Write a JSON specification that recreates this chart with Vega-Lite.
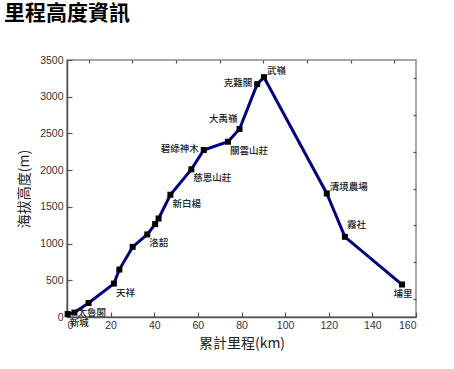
{
  "$schema": "https://vega.github.io/schema/vega-lite/v6.json",
  "autosize": "none",
  "padding": {"left": 67, "top": 60, "right": 38, "bottom": 52},
  "width": 349,
  "height": 257,
  "background": "white",
  "title": {
    "text": "里程高度資訊",
    "anchor": "start",
    "frame": "group",
    "dx": -63,
    "offset": 10,
    "baseline": "bottom",
    "font": "Noto Sans CJK TC",
    "fontSize": 21,
    "fontWeight": "bold",
    "color": "#000"
  },
  "config": {
    "view": {"stroke": "#8a8a8a", "strokeWidth": 1.5},
    "axis": {"grid": false}
  },
  "data": {
    "values": [
      {"km": 0.3, "elev": 40, "name": "新城"},
      {"km": 3.4, "elev": 60, "name": "太魯閣"},
      {"km": 9.9, "elev": 191, "name": ""},
      {"km": 21.5, "elev": 455, "name": "天祥"},
      {"km": 24.0, "elev": 646, "name": ""},
      {"km": 30.1, "elev": 955, "name": ""},
      {"km": 36.8, "elev": 1124, "name": "洛韶"},
      {"km": 40.4, "elev": 1265, "name": ""},
      {"km": 42.0, "elev": 1342, "name": ""},
      {"km": 47.4, "elev": 1665, "name": "新白楊"},
      {"km": 57.0, "elev": 2011, "name": "慈恩山莊"},
      {"km": 62.7, "elev": 2274, "name": "碧綠神木"},
      {"km": 73.8, "elev": 2387, "name": "關雲山莊"},
      {"km": 79.1, "elev": 2561, "name": "大禹嶺"},
      {"km": 87.2, "elev": 3171, "name": "克難關"},
      {"km": 90.3, "elev": 3266, "name": "武嶺"},
      {"km": 119.1, "elev": 1683, "name": "清境農場"},
      {"km": 127.4, "elev": 1092, "name": "霧社"},
      {"km": 153.6, "elev": 442, "name": "埔里"}
    ]
  },
  "encoding": {
    "x": {"field": "km", "type": "quantitative", "scale": {"domain": [0, 160], "nice": false, "zero": false}},
    "y": {"field": "elev", "type": "quantitative", "scale": {"domain": [0, 3500], "nice": false, "zero": false}}
  },
  "layer": [
    {
      "mark": {"type": "line", "color": "#000080", "strokeWidth": 3},
      "encoding": {
        "x": {"field": "km", "type": "quantitative", "axis": {
          "title": "累計里程(km)", "values": [0, 20, 40, 60, 80, 100, 120, 140, 160], "format": "d",
          "domainColor": "#555", "domainWidth": 1.5, "tickColor": "#555", "tickWidth": 1.2, "tickSize": -5,
          "labelFont": "Liberation Sans", "labelFontSize": 10.5, "labelColor": "#333", "labelPadding": 8,
          "titleFont": "Noto Sans CJK TC", "titleFontSize": 14, "titleFontWeight": "normal", "titleColor": "#222", "titlePadding": 6
        }},
        "y": {"field": "elev", "type": "quantitative", "axis": {
          "title": "海拔高度(m)", "values": [0, 500, 1000, 1500, 2000, 2500, 3000, 3500], "format": "d",
          "domainColor": "#555", "domainWidth": 1.5, "tickColor": "#555", "tickWidth": 1.2, "tickSize": -5,
          "labelFont": "Liberation Sans", "labelFontSize": 10.5, "labelColor": "#333", "labelPadding": 9,
          "titleFont": "Noto Sans CJK TC", "titleFontSize": 14, "titleFontWeight": "normal", "titleColor": "#222", "titlePadding": 8
        }}
      }
    },
    {
      "mark": {"type": "square", "color": "#000", "size": 36, "opacity": 1, "filled": true},
      "encoding": {
        "x": {"field": "km", "type": "quantitative", "axis": {
          "title": null, "values": [10, 30, 50, 70, 90, 110, 130, 150], "labels": false, "domain": false,
          "tickColor": "#555", "tickWidth": 1.2, "tickSize": -3
        }},
        "y": {"field": "elev", "type": "quantitative", "axis": {
          "title": null, "values": [250, 750, 1250, 1750, 2250, 2750, 3250], "labels": false, "domain": false,
          "tickColor": "#555", "tickWidth": 1.2, "tickSize": -3
        }}
      }
    },
    {
      "transform": [{"filter": {"field": "name", "oneOf": ["新城", "天祥", "洛韶", "新白楊", "慈恩山莊", "關雲山莊"]}}],
      "mark": {"type": "text", "align": "left", "baseline": "middle", "dx": 2, "dy": 9, "font": "Noto Sans CJK TC", "fontSize": 9.5, "fontWeight": 500, "color": "#222"},
      "encoding": {"x": {"field": "km", "type": "quantitative", "axis": null}, "y": {"field": "elev", "type": "quantitative", "axis": null}, "text": {"field": "name"}}
    },
    {
      "transform": [{"filter": {"field": "name", "oneOf": ["碧綠神木", "克難關"]}}],
      "mark": {"type": "text", "align": "right", "baseline": "middle", "dx": -5, "dy": -1, "font": "Noto Sans CJK TC", "fontSize": 9.5, "fontWeight": 500, "color": "#222"},
      "encoding": {"x": {"field": "km", "type": "quantitative", "axis": null}, "y": {"field": "elev", "type": "quantitative", "axis": null}, "text": {"field": "name"}}
    },
    {
      "transform": [{"filter": {"field": "name", "oneOf": ["大禹嶺"]}}],
      "mark": {"type": "text", "align": "right", "baseline": "middle", "dx": -2, "dy": -10, "font": "Noto Sans CJK TC", "fontSize": 9.5, "fontWeight": 500, "color": "#222"},
      "encoding": {"x": {"field": "km", "type": "quantitative", "axis": null}, "y": {"field": "elev", "type": "quantitative", "axis": null}, "text": {"field": "name"}}
    },
    {
      "transform": [{"filter": {"field": "name", "oneOf": ["武嶺", "清境農場"]}}],
      "mark": {"type": "text", "align": "left", "baseline": "middle", "dx": 3, "dy": -6, "font": "Noto Sans CJK TC", "fontSize": 9.5, "fontWeight": 500, "color": "#222"},
      "encoding": {"x": {"field": "km", "type": "quantitative", "axis": null}, "y": {"field": "elev", "type": "quantitative", "axis": null}, "text": {"field": "name"}}
    },
    {
      "transform": [{"filter": {"field": "name", "oneOf": ["霧社"]}}],
      "mark": {"type": "text", "align": "left", "baseline": "middle", "dx": 2, "dy": -12, "font": "Noto Sans CJK TC", "fontSize": 9.5, "fontWeight": 500, "color": "#222"},
      "encoding": {"x": {"field": "km", "type": "quantitative", "axis": null}, "y": {"field": "elev", "type": "quantitative", "axis": null}, "text": {"field": "name"}}
    },
    {
      "transform": [{"filter": {"field": "name", "oneOf": ["太魯閣"]}}],
      "mark": {"type": "text", "align": "left", "baseline": "middle", "dx": 3, "dy": 0, "font": "Noto Sans CJK TC", "fontSize": 9.5, "fontWeight": 500, "color": "#222"},
      "encoding": {"x": {"field": "km", "type": "quantitative", "axis": null}, "y": {"field": "elev", "type": "quantitative", "axis": null}, "text": {"field": "name"}}
    },
    {
      "transform": [{"filter": {"field": "name", "oneOf": ["埔里"]}}],
      "mark": {"type": "text", "align": "center", "baseline": "middle", "dx": 1, "dy": 9, "font": "Noto Sans CJK TC", "fontSize": 9.5, "fontWeight": 500, "color": "#222"},
      "encoding": {"x": {"field": "km", "type": "quantitative", "axis": null}, "y": {"field": "elev", "type": "quantitative", "axis": null}, "text": {"field": "name"}}
    }
  ],
  "resolve": {"axis": {"x": "independent", "y": "independent"}}
}
